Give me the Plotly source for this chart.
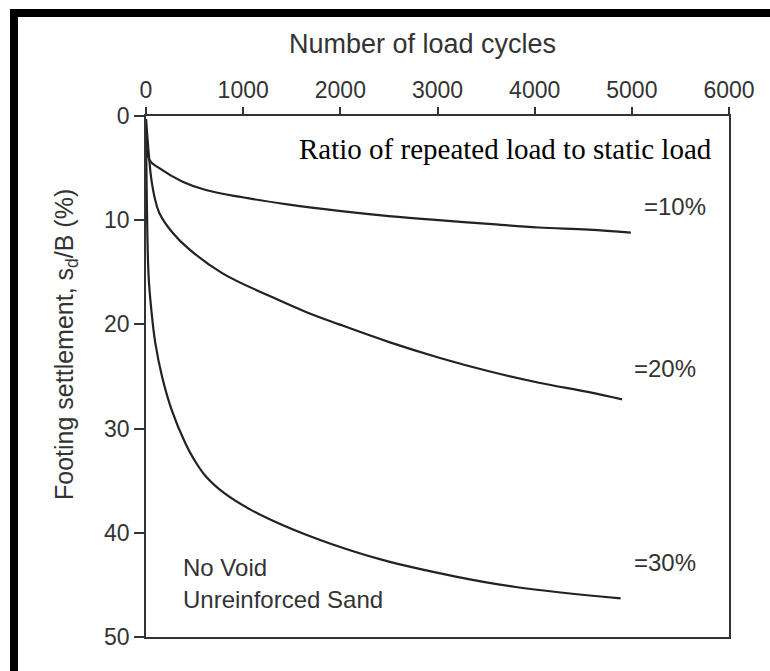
import plotly.graph_objects as go

# Settlement under repeated loading, no void, unreinforced sand
cycles_10 = [0, 34, 137, 377, 616, 993, 1473, 1986, 2500, 3013, 3527, 4040, 4555, 4990]
settle_10 = [0.3, 4.2, 5.0, 6.3, 7.1, 7.8, 8.5, 9.1, 9.6, 10.0, 10.35, 10.7, 10.9, 11.2]

cycles_20 = [0, 34, 51, 86, 137, 274, 446, 788, 1303, 1646, 1989, 2503, 3017, 3530, 4045, 4560, 4900]
settle_20 = [0.3, 4.2, 5.8, 7.7, 9.3, 11.2, 12.8, 15.1, 17.4, 18.8, 20.0, 21.7, 23.2, 24.5, 25.6, 26.5, 27.2]

cycles_30 = [0, 10, 27, 55, 96, 165, 264, 405, 497, 617, 806, 1080, 1440, 1885, 2434, 3188, 3805, 4885]
settle_30 = [0.3, 9.0, 15.4, 18.6, 21.8, 25.0, 28.2, 31.4, 33.0, 34.6, 36.2, 37.8, 39.4, 41.0, 42.6, 44.2, 45.2, 46.3]

ratio_labels = ["=10%", "=20%", "=30%"]
x_ticks = [0, 1000, 2000, 3000, 4000, 5000, 6000]
y_ticks = [0, 10, 20, 30, 40, 50]

W, H = 770, 671
L, R, T, B = 146, 729, 116, 637


def px(x):
    return (x - L) / (R - L)


def py(y):
    return (B - y) / (B - T)


fig = go.Figure()
for xs, ys in [(cycles_10, settle_10), (cycles_20, settle_20), (cycles_30, settle_30)]:
    fig.add_trace(go.Scatter(
        x=xs, y=ys, mode="lines",
        line=dict(color="#222222", width=2.2, shape="spline", smoothing=1.1),
        showlegend=False, hoverinfo="skip"))

sans = "Arial, Liberation Sans, sans-serif"
grey = "#333333"

fig.update_layout(
    width=W, height=H,
    margin=dict(l=L, r=W - R, t=T, b=H - B),
    paper_bgcolor="white", plot_bgcolor="white",
    font=dict(family=sans, color=grey, size=23),
    xaxis=dict(side="top", range=[0, 6000], tickvals=x_ticks,
               ticks="outside", ticklen=7, tickwidth=1.5, tickcolor="#333",
               showline=True, linecolor="#333", linewidth=1.6, mirror=True,
               showgrid=False, zeroline=False,
               tickfont=dict(family=sans, size=23, color=grey)),
    yaxis=dict(range=[50, 0], tickvals=y_ticks,
               ticks="outside", ticklen=10, tickwidth=1.5, tickcolor="#333",
               showline=True, linecolor="#333", linewidth=1.6, mirror=True,
               showgrid=False, zeroline=False,
               tickfont=dict(family=sans, size=23, color=grey)),
)

ann = []
# axis titles
ann.append(dict(text="Number of load cycles", x=px(422), y=py(44),
                xref="paper", yref="paper", showarrow=False,
                xanchor="center", yanchor="middle",
                font=dict(family=sans, size=27, color=grey)))
ann.append(dict(text="Footing settlement, s<sub>d</sub>/B (%)", x=px(66), y=py(345),
                xref="paper", yref="paper", showarrow=False, textangle=-90,
                xanchor="center", yanchor="middle",
                font=dict(family=sans, size=25, color=grey)))
# header inside the plot
ann.append(dict(text="Ratio of repeated load to static load", x=px(297), y=py(149),
                xref="paper", yref="paper", showarrow=False,
                xanchor="left", yanchor="middle",
                font=dict(family="Liberation Serif, Times New Roman, serif", size=29, color="black")))
# curve labels
for lab, (lx, ly) in zip(ratio_labels, [(642, 206), (632, 368), (632, 562)]):
    ann.append(dict(text=lab, x=px(lx), y=py(ly), xref="paper", yref="paper",
                    showarrow=False, xanchor="left", yanchor="middle",
                    font=dict(family=sans, size=24, color=grey)))
ann.append(dict(text="No Void", x=px(181), y=py(567), xref="paper", yref="paper",
                showarrow=False, xanchor="left", yanchor="middle",
                font=dict(family=sans, size=24, color=grey)))
ann.append(dict(text="Unreinforced Sand", x=px(181), y=py(599), xref="paper", yref="paper",
                showarrow=False, xanchor="left", yanchor="middle",
                font=dict(family=sans, size=24, color=grey)))
fig.update_layout(annotations=ann)

# heavy black frame along the left and top edges of the figure
frame = dict(type="rect", xref="paper", yref="paper", fillcolor="black", line=dict(width=0), layer="above")
fig.add_shape(**frame, x0=px(10), x1=px(18), y0=py(H + 5), y1=py(9))
fig.add_shape(**frame, x0=px(10), x1=px(W + 5), y0=py(17), y1=py(9))

fig.write_html("out.html")
